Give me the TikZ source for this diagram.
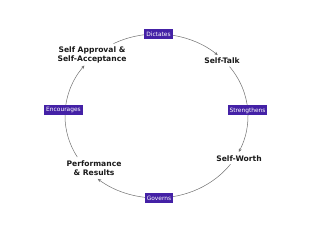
\documentclass[tikz,border=0pt]{standalone}
\usepackage{fontspec}
\setmainfont{DejaVu Sans}
\usetikzlibrary{arrows.meta,calc}
\definecolor{boxpurple}{HTML}{4421A6}
\definecolor{ringgray}{HTML}{707070}
\tikzset{
  x=1pt,y=1pt,
  tag/.style={fill=boxpurple,text=white,font=\fontsize{5.9}{6}\selectfont,inner xsep=2pt,inner ysep=1.6pt,minimum height=10pt},
  stage/.style={font=\bfseries\fontsize{7.6}{8.6}\selectfont,align=center,text=black!90},
  ring/.style={draw=ringgray,line width=0.5pt},
  ringarrow/.style={ring,-{Stealth[length=3.5pt,width=3pt]}}
}
\newcommand{\rx}{91.5}
\newcommand{\ry}{82}
\begin{document}
\begin{tikzpicture}
\useasboundingbox (0,0) rectangle (320,240);
\coordinate (c) at (156.5,124);
% arc end points
\foreach \n/\a in {p90/90,p48/48,p37/37,p4/4,pm26/-26,pm36/-36,pm90/-90,pm130/-130,pm150/-150,p180/180,p142/142,p118/118}{
  \coordinate (\n) at ($(c)+(\a:\rx pt and \ry pt)$);
}
% arcs
\draw[ringarrow] (p90) arc[start angle=90,end angle=48,x radius=\rx,y radius=\ry];
\draw[ring] (p37) arc[start angle=37,end angle=4,x radius=\rx,y radius=\ry];
\draw[ringarrow] (p4) arc[start angle=4,end angle=-26,x radius=\rx,y radius=\ry];
\draw[ring] (pm36) arc[start angle=-36,end angle=-90,x radius=\rx,y radius=\ry];
\draw[ringarrow] (pm90) arc[start angle=-90,end angle=-130,x radius=\rx,y radius=\ry];
\draw[ring] (pm150) arc[start angle=-150,end angle=-180,x radius=\rx,y radius=\ry];
\draw[ringarrow] (p180) arc[start angle=180,end angle=142,x radius=\rx,y radius=\ry];
\draw[ring] (p118) arc[start angle=118,end angle=90,x radius=\rx,y radius=\ry];
% tags
\node[tag] (dictates) at (158.5,206) {Dictates};
\node[tag] (strengthens) at (247.5,129.5) {Strengthens};
\node[tag] (governs) at (159,42) {Governs};
\node[tag] (encourages) at (63.5,130) {Encourages};
% stages
\node[stage] (selftalk) at (222,179) {Self-Talk};
\node[stage] (selfworth) at (239,81) {Self-Worth};
\node[stage] (perf) at (94,72) {Performance\\\& Results};
\node[stage] (approval) at (92,185) {Self Approval \&\\Self-Acceptance};
\end{tikzpicture}
\end{document}
